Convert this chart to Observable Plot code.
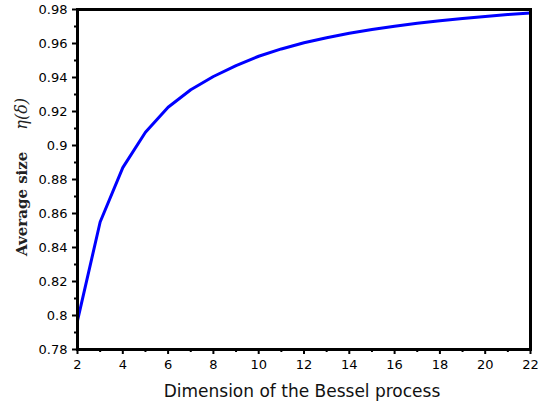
<!DOCTYPE html>
<html>
<head>
<meta charset="utf-8">
<script src="https://cdn.jsdelivr.net/npm/d3@7"></script>
<script src="https://cdn.jsdelivr.net/npm/@observablehq/plot@0.6"></script>
<style>
  html, body { margin: 0; padding: 0; background: #fff; }
  #chart svg { display: block; }
</style>
</head>
<body>
<div id="chart"></div>
<script>
const dimension = [2, 3, 4, 5, 6, 7, 8, 9, 10, 11, 12, 13, 14, 15, 16, 17, 18, 19, 20, 21, 22];
const avgSize = [0.797, 0.855, 0.887, 0.9078, 0.9225, 0.9328, 0.9406, 0.947, 0.9525, 0.9568, 0.9604, 0.9634, 0.966, 0.9682, 0.9702, 0.9719, 0.9734, 0.9747, 0.9759, 0.977, 0.978];
const xTicks = [2, 4, 6, 8, 10, 12, 14, 16, 18, 20, 22];
const xMinor = [3, 5, 7, 9, 11, 13, 15, 17, 19, 21];
const yTicks = [0.78, 0.8, 0.82, 0.84, 0.86, 0.88, 0.9, 0.92, 0.94, 0.96, 0.98];
const yMinor = [0.79, 0.81, 0.83, 0.85, 0.87, 0.89, 0.91, 0.93, 0.95, 0.97];
const xTitle = "Dimension of the Bessel process";
const yTitleMain = "Average size";
const yTitleMath = "η(δ)";

const data = dimension.map((d, i) => ({x: d, y: avgSize[i]}));

const chart = Plot.plot({
  width: 542,
  height: 404,
  marginLeft: 77,
  marginRight: 12,
  marginTop: 9,
  marginBottom: 55,
  style: {fontFamily: "DejaVu Sans", fontSize: "13px", color: "black", background: "white"},
  x: {domain: [2, 22]},
  y: {domain: [0.78, 0.98]},
  marks: [
    Plot.line(data, {x: "x", y: "y", stroke: "#0000ff", strokeWidth: 3}),
    Plot.axisX(xTicks, {tickSize: 5, tickPadding: 5, strokeWidth: 2, label: null, fontSize: 13}),
    Plot.axisX(xMinor, {tickSize: 3, strokeWidth: 2, text: null, label: null}),
    Plot.axisY(yTicks, {tickSize: 5, tickPadding: 5, strokeWidth: 2, label: null, tickFormat: d => String(d), fontSize: 13}),
    Plot.axisY(yMinor, {tickSize: 3, strokeWidth: 2, text: null, label: null}),
    Plot.frame({stroke: "black", strokeWidth: 3})
  ]
});

const svg = d3.select(chart);
svg.append("text")
  .attr("x", 302)
  .attr("y", 397)
  .attr("text-anchor", "middle")
  .attr("font-family", "DejaVu Sans")
  .attr("font-size", 17)
  .attr("fill", "#111")
  .text(xTitle);

const yt = svg.append("text")
  .attr("transform", "translate(27,256) rotate(-90)")
  .attr("text-anchor", "start")
  .attr("font-family", "DejaVu Serif")
  .attr("font-size", 15)
  .attr("font-weight", "bold")
  .attr("fill", "#222");
yt.append("tspan").text(yTitleMain);
yt.append("tspan").attr("dx", 22).attr("font-style", "italic").attr("font-weight", "normal").attr("font-size", 16).text(yTitleMath);

document.getElementById("chart").appendChild(chart);
</script>
</body>
</html>
